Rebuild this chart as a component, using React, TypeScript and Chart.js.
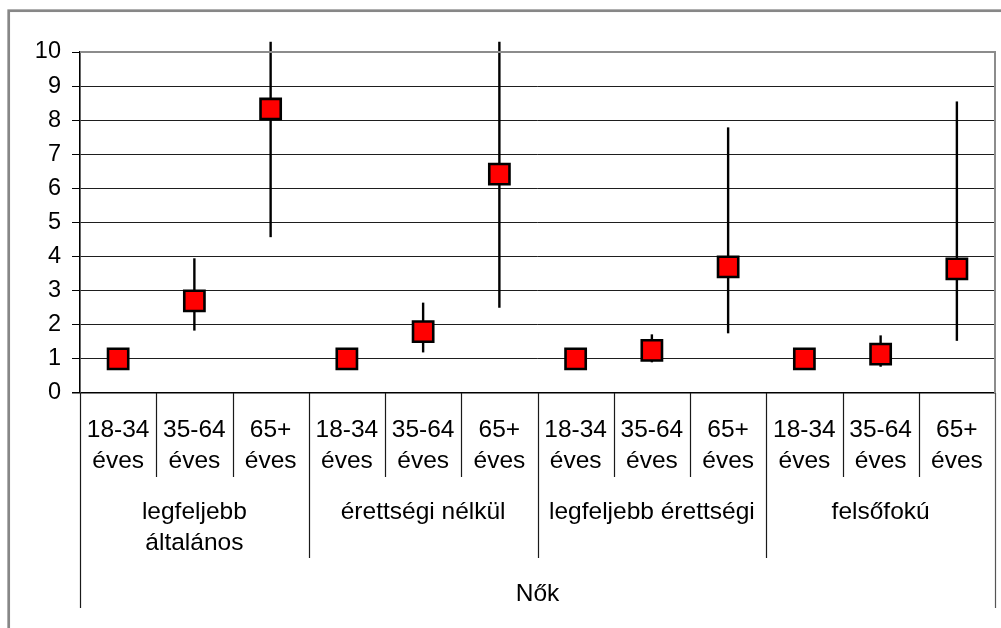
import React, { useEffect, useRef } from 'react';
import { Chart, registerables } from 'chart.js';

Chart.register(...registerables);

// ---- data ----
const ageLabels: string[][] = [
  ['18-34', 'éves'], ['35-64', 'éves'], ['65+', 'éves'],
  ['18-34', 'éves'], ['35-64', 'éves'], ['65+', 'éves'],
  ['18-34', 'éves'], ['35-64', 'éves'], ['65+', 'éves'],
  ['18-34', 'éves'], ['35-64', 'éves'], ['65+', 'éves'],
];
const groupLabels: string[][] = [
  ['legfeljebb', 'általános'],
  ['érettségi nélkül'],
  ['legfeljebb érettségi'],
  ['felsőfokú'],
];
const topLabel = 'Nők';

const estimates: number[] = [1, 2.7, 8.33, 1, 1.8, 6.42, 1, 1.25, 3.7, 1, 1.14, 3.64];
const ciLower: (number | null)[] = [null, 1.83, 4.57, null, 1.19, 2.5, null, 0.9, 1.75, null, 0.77, 1.53];
const ciUpper: (number | null)[] = [null, 3.95, 10.3, null, 2.65, 10.3, null, 1.72, 7.79, null, 1.69, 8.55];

const yMin = 0;
const yMax = 10;
const yStep = 1;

const FONT = '"Liberation Sans", Arial, sans-serif';

const framePlugin = {
  id: 'frame',
  beforeDraw(chart: any) {
    const { ctx, width, height } = chart;
    ctx.save();
    ctx.fillStyle = '#ffffff';
    ctx.fillRect(0, 0, width, height);
    ctx.strokeStyle = '#878787';
    ctx.lineWidth = 2.7;
    ctx.strokeRect(8.7, 10.7, width + 50, height + 50);
    ctx.restore();
  },
};

const errorBarPlugin = {
  id: 'errorBars',
  beforeDatasetsDraw(chart: any) {
    const { ctx, scales } = chart;
    const x = scales.x;
    const y = scales.y;
    ctx.save();
    ctx.strokeStyle = '#000000';
    ctx.lineWidth = 2.4;
    ciLower.forEach((lo, i) => {
      const hi = ciUpper[i];
      if (lo == null || hi == null) return;
      const px = x.getPixelForValue(i);
      ctx.beginPath();
      ctx.moveTo(px, y.getPixelForValue(lo));
      ctx.lineTo(px, y.getPixelForValue(hi));
      ctx.stroke();
    });
    ctx.restore();
  },
};

const plotBorderPlugin = {
  id: 'plotBorder',
  afterDraw(chart: any) {
    const { ctx, chartArea } = chart;
    const { left, right, top, bottom } = chartArea;
    ctx.save();
    ctx.strokeStyle = '#8c8c8c';
    ctx.lineWidth = 2;
    ctx.beginPath();
    ctx.moveTo(left, top);
    ctx.lineTo(right, top);
    ctx.lineTo(right, bottom);
    ctx.stroke();
    ctx.restore();
  },
};

const xLabelPlugin = {
  id: 'xLabels',
  afterDraw(chart: any) {
    const { ctx, chartArea, scales } = chart;
    const x = scales.x;
    const n = ageLabels.length;
    const step = (chartArea.right - chartArea.left) / n;
    const base = chartArea.bottom;
    const perGroup = n / groupLabels.length;
    ctx.save();
    ctx.lineWidth = 1.2;
    for (let k = 0; k <= n; k++) {
      const bx = Math.round(chartArea.left + step * k) + 0.5;
      let len = 84;
      if (k === 0 || k === n) len = 215;
      else if (k % perGroup === 0) len = 165;
      ctx.strokeStyle = k === n ? '#555555' : '#1a1a1a';
      ctx.beginPath();
      ctx.moveTo(bx, base);
      ctx.lineTo(bx, base + len);
      ctx.stroke();
    }
    ctx.fillStyle = '#000000';
    ctx.font = `24.5px ${FONT}`;
    ctx.textAlign = 'center';
    ctx.textBaseline = 'alphabetic';
    ageLabels.forEach((lines, i) => {
      const px = x.getPixelForValue(i);
      lines.forEach((t, j) => ctx.fillText(t, px, base + 44 + j * 31));
    });
    groupLabels.forEach((lines, g) => {
      const px = (x.getPixelForValue(g * perGroup) + x.getPixelForValue(g * perGroup + perGroup - 1)) / 2;
      lines.forEach((t, j) => ctx.fillText(t, px, base + 126 + j * 31));
    });
    ctx.fillText(topLabel, (chartArea.left + chartArea.right) / 2, base + 208);
    ctx.restore();
  },
};

export default function App() {
  const ref = useRef<HTMLCanvasElement | null>(null);
  useEffect(() => {
    if (!ref.current) return;
    const chart = new Chart(ref.current, {
      type: 'line',
      data: {
        labels: ageLabels.map((l) => l.join(' ')),
        datasets: [
          {
            data: estimates,
            showLine: false,
            pointStyle: 'rect',
            pointRadius: 14.3,
            pointHoverRadius: 14.3,
            pointBackgroundColor: '#ff0000',
            pointBorderColor: '#000000',
            pointBorderWidth: 2.6,
            clip: false,
          } as any,
        ],
      },
      options: {
        responsive: false,
        animation: false,
        events: [],
        layout: { autoPadding: false, padding: { left: 0, top: 52, right: 6, bottom: 235 } },
        plugins: { legend: { display: false }, tooltip: { enabled: false } },
        scales: {
          x: {
            type: 'category',
            offset: true,
            display: false,
          },
          y: {
            min: yMin,
            max: yMax,
            afterFit: (s: any) => { s.width = 80; },
            ticks: {
              stepSize: yStep,
              color: '#000000',
              font: { family: FONT, size: 23.5 },
              padding: 11,
            },
            grid: {
              color: (c: any) => (c.tick && c.tick.value === 0 ? '#000000' : '#1e1e1e'),
              lineWidth: (c: any) => (c.tick && c.tick.value === 0 ? 1.5 : 1),
              tickLength: 8,
              tickColor: '#000000',
            },
            border: { display: true, color: '#000000', width: 1.6 },
          },
        },
      },
      plugins: [framePlugin, errorBarPlugin, plotBorderPlugin, xLabelPlugin],
    });
    return () => chart.destroy();
  }, []);
  return (
    <div style={{ position: 'fixed', left: 0, top: 0, width: 1001, height: 628, background: '#fff' }}>
      <canvas ref={ref} width={1001} height={628} style={{ display: 'block' }} />
    </div>
  );
}
